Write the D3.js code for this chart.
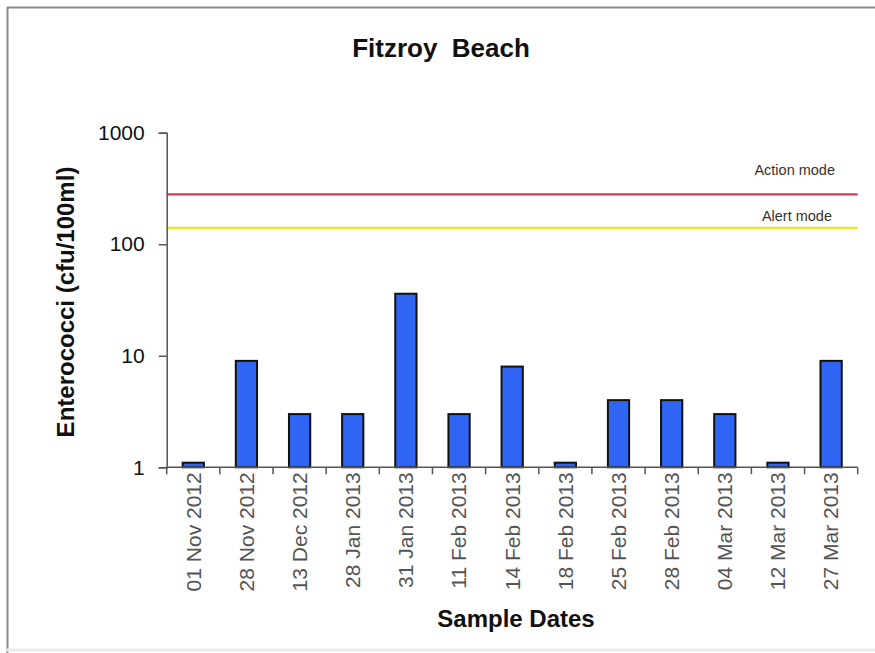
<!DOCTYPE html>
<html>
<head>
<meta charset="utf-8">
<script src="https://cdn.jsdelivr.net/npm/d3@7"></script>
<style>
  html, body { margin: 0; padding: 0; background: #fff; }
  svg { display: block; font-family: Arial, "Liberation Sans", sans-serif; }
</style>
</head>
<body>
<svg id="chart" width="875" height="653"></svg>
<script>
// sample dates and enterococci counts (cfu/100ml)
const sampleDates = ["01 Nov 2012", "28 Nov 2012", "13 Dec 2012", "28 Jan 2013", "31 Jan 2013",
    "11 Feb 2013", "14 Feb 2013", "18 Feb 2013", "25 Feb 2013", "28 Feb 2013",
    "04 Mar 2013", "12 Mar 2013", "27 Mar 2013"];
const counts = [1.1, 9, 3, 3, 36, 3, 8, 1.1, 4, 4, 3, 1.1, 9];

// guideline levels
const modeNames = ["Action mode", "Alert mode"];
const modeLevels = [280, 140];
const modeColors = ["#d23a52", "#f2e22a"];

const yTicks = [1, 10, 100, 1000];

const svg = d3.select("#chart");
const plot = {left: 166.7, right: 857.7, top: 132.7, bottom: 467.3};

// outer frame (top + left edges visible in the reference)
svg.append("line").attr("x1", 7).attr("x2", 875).attr("y1", 7.5).attr("y2", 7.5)
    .attr("stroke", "#8a8a8a").attr("stroke-width", 2);
svg.append("line").attr("x1", 7.5).attr("x2", 7.5).attr("y1", 7).attr("y2", 653)
    .attr("stroke", "#8a8a8a").attr("stroke-width", 2);
svg.append("line").attr("x1", 7).attr("x2", 875).attr("y1", 650).attr("y2", 650)
    .attr("stroke", "#ececec").attr("stroke-width", 3);

let x = d3.scaleBand().domain(sampleDates).range([plot.left, plot.right]).paddingInner(0.6).paddingOuter(0.3);
let xCat = d3.scaleBand().domain(sampleDates).range([plot.left, plot.right]);
let y = d3.scaleLog().domain([1, 1000]).range([plot.bottom, plot.top]);

// title
svg.append("text")
    .attr("x", 441).attr("y", 57)
    .attr("text-anchor", "middle")
    .attr("font-size", 26).attr("font-weight", "bold")
    .attr("fill", "#111")
    .style("white-space", "pre")
    .text("Fitzroy  Beach");

// guideline lines, labels sit above each line
const labelLift = [19, 7];
modeLevels.forEach((v, i) => {
    svg.append("line")
        .attr("x1", plot.left).attr("x2", plot.right)
        .attr("y1", y(v)).attr("y2", y(v))
        .attr("stroke", modeColors[i]).attr("stroke-width", 2.2);
    svg.append("text")
        .attr("x", 835 - i * 3).attr("y", y(v) - labelLift[i])
        .attr("text-anchor", "end")
        .attr("font-size", 14.5)
        .attr("fill", "#333")
        .text(modeNames[i]);
});

// bars
svg.append("g").selectAll("rect")
    .data(counts)
    .join("rect")
    .attr("x", (d, i) => x(sampleDates[i]))
    .attr("width", x.bandwidth())
    .attr("y", d => y(d))
    .attr("height", d => y(1) - y(d))
    .attr("fill", "#3064f2")
    .attr("stroke", "#111")
    .attr("stroke-width", 2);

// y axis
let yAxis = svg.append("g")
    .attr("transform", "translate(" + plot.left + ",0)")
    .call(d3.axisLeft(y).tickValues(yTicks).tickFormat(d3.format("d")).tickSize(8).tickPadding(14));
yAxis.select(".domain").attr("stroke", "#555").attr("stroke-width", 1.5);
yAxis.selectAll(".tick line").attr("stroke", "#555").attr("stroke-width", 1.5);
yAxis.selectAll(".tick text")
    .attr("font-size", 21).attr("fill", "#111")
    .attr("font-family", "Arial, 'Liberation Sans', sans-serif");

// x axis: ticks at category boundaries
let xAxisG = svg.append("g");
xAxisG.append("line")
    .attr("x1", plot.left).attr("x2", plot.right)
    .attr("y1", plot.bottom).attr("y2", plot.bottom)
    .attr("stroke", "#555").attr("stroke-width", 1.5);
xAxisG.selectAll("line.tick")
    .data(sampleDates.concat(["end"]))
    .join("line")
    .attr("class", "tick")
    .attr("x1", (d, i) => i < sampleDates.length ? xCat(d) : plot.right)
    .attr("x2", (d, i) => i < sampleDates.length ? xCat(d) : plot.right)
    .attr("y1", plot.bottom).attr("y2", plot.bottom + 7)
    .attr("stroke", "#555").attr("stroke-width", 1.5);
xAxisG.selectAll("text")
    .data(sampleDates)
    .join("text")
    .attr("transform", d => "translate(" + (xCat(d) + xCat.bandwidth() / 2) + "," + (plot.bottom + 5) + ") rotate(-90)")
    .attr("text-anchor", "end")
    .attr("dy", "0.35em")
    .attr("font-size", 21)
    .attr("fill", "#555")
    .text(d => d);

// axis titles
svg.append("text")
    .attr("transform", "translate(74,302) rotate(-90)")
    .attr("text-anchor", "middle")
    .attr("font-size", 24).attr("font-weight", "bold")
    .attr("fill", "#111")
    .text("Enterococci (cfu/100ml)");
svg.append("text")
    .attr("x", 516).attr("y", 627)
    .attr("text-anchor", "middle")
    .attr("font-size", 24).attr("font-weight", "bold")
    .attr("fill", "#111")
    .text("Sample Dates");
</script>
</body>
</html>
